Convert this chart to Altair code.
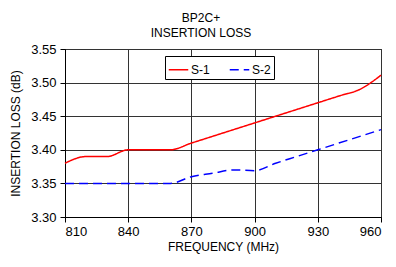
import altair as alt
import pandas as pd

freq = [810, 820, 830, 840, 850, 860, 870, 880, 890, 900, 910, 920, 930, 940, 950, 960]
s1 = [3.380, 3.390, 3.390, 3.400, 3.400, 3.400, 3.410, 3.420, 3.430, 3.440, 3.450, 3.460, 3.470, 3.480, 3.490, 3.511]
s2 = [3.350, 3.350, 3.350, 3.350, 3.350, 3.350, 3.360, 3.365, 3.370, 3.369, 3.380, 3.390, 3.400, 3.410, 3.420, 3.430]
series_names = ["S-1", "S-2"]
x_ticks = [810, 840, 870, 900, 930, 960]
y_ticks = [3.30, 3.35, 3.40, 3.45, 3.50, 3.55]

rows = []
for f, v in zip(freq, s1):
    rows.append({"freq": f, "loss": v, "series": "S-1"})
for f, v in zip(freq, s2):
    rows.append({"freq": f, "loss": v, "series": "S-2"})
df = pd.DataFrame(rows)

FONT = "Liberation Sans"

leg = alt.Legend(
    title=None, orient="none", legendX=100, legendY=7, direction="horizontal",
    symbolType="stroke", symbolSize=380, symbolStrokeWidth=1.5,
    labelFontSize=12, labelFont=FONT, labelColor="black",
    strokeColor="black", fillColor="white", padding=3, columnPadding=16,
    labelOffset=2,
)

lines = alt.Chart(df).mark_line(strokeWidth=1.5, interpolate="monotone").encode(
    x=alt.X("freq:Q", scale=alt.Scale(domain=[810, 960], nice=False),
            axis=alt.Axis(values=x_ticks, title="FREQUENCY (MHz)", format="d")),
    y=alt.Y("loss:Q", scale=alt.Scale(domain=[3.30, 3.55], nice=False, zero=False),
            axis=alt.Axis(values=y_ticks, title="INSERTION LOSS (dB)", format=".2f")),
    color=alt.Color("series:N", scale=alt.Scale(domain=series_names, range=["#FF0000", "#0000FF"]), legend=leg),
    strokeDash=alt.StrokeDash("series:N", scale=alt.Scale(domain=series_names, range=[[1, 0], [9, 5]]), legend=leg),
)

chart = lines.properties(
    width=316, height=168,
    autosize=alt.AutoSizeParams(type="none"),
    padding={"left": 57, "top": 41, "right": 1, "bottom": 37},
    title=alt.Title(["BP2C+", "INSERTION LOSS"], fontSize=12, font=FONT, fontWeight="normal",
                    anchor="middle", dx=-22, offset=3, lineHeight=15, color="black"),
).configure_view(stroke="black", strokeWidth=1).configure_axis(
    grid=True, gridColor="#333333", gridWidth=1, gridOpacity=1,
    domainColor="black", tickColor="black", tickSize=5,
    labelFont=FONT, labelFontSize=13, labelColor="black",
    titleFont=FONT, titleFontSize=12, titleFontWeight="normal", titleColor="black",
).configure_axisY(labelPadding=4, titlePadding=8).configure_axisX(labelPadding=3, titlePadding=3)

chart.save("out.html", embed_options={"renderer": "svg", "actions": False})
